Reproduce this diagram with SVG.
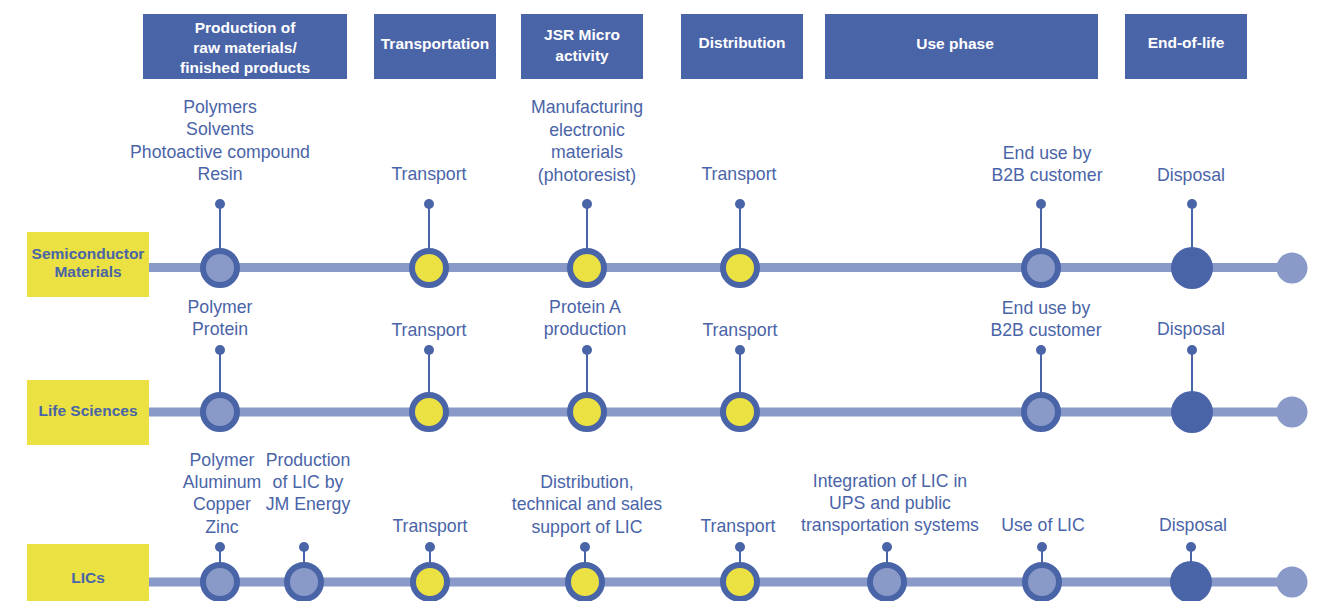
<svg xmlns="http://www.w3.org/2000/svg" width="1326" height="601" viewBox="0 0 1326 601">
<defs>
<style>
.hdr{fill:#4a64a8}
.ht{fill:#ffffff;font-family:"Liberation Sans",Arial,sans-serif;font-weight:bold;font-size:15.5px;text-anchor:middle}
.lbl{fill:#ebe142}
.lt{fill:#4a64a8;font-family:"Liberation Sans",Arial,sans-serif;font-weight:bold;font-size:15.5px;text-anchor:middle}
.t{fill:#4a64a8;font-family:"Liberation Sans",Arial,sans-serif;font-size:17.7px;text-anchor:middle}
.track{stroke:#8a9ac8;stroke-width:9;fill:none}
.stem{stroke:#4a64a8;stroke-width:2}
.dot{fill:#4a64a8}
.nb{fill:#8a9ac8;stroke:#4a64a8;stroke-width:6}
.ny{fill:#ebe142;stroke:#4a64a8;stroke-width:6}
.nd{fill:#4a64a8}
.ne{fill:#8a9ac8}
</style>
</defs>
<rect width="1326" height="601" fill="#ffffff"/>

<g id="headers">
<g id="h-production"><rect class="hdr" x="143" y="14" width="204" height="65"/>
<text class="ht" x="245" y="33">Production of</text><text class="ht" x="245" y="53">raw materials/</text><text class="ht" x="245" y="73">finished products</text></g>
<g id="h-transportation"><rect class="hdr" x="374" y="14" width="122" height="65"/><text class="ht" x="435" y="49">Transportation</text></g>
<g id="h-jsr"><rect class="hdr" x="521" y="14" width="122" height="65"/><text class="ht" x="582" y="40">JSR  Micro</text><text class="ht" x="582" y="61">activity</text></g>
<g id="h-distribution"><rect class="hdr" x="681" y="14" width="122" height="65"/><text class="ht" x="742" y="48">Distribution</text></g>
<g id="h-use"><rect class="hdr" x="825" y="14" width="273" height="65"/><text class="ht" x="955" y="49">Use phase</text></g>
<g id="h-eol"><rect class="hdr" x="1125" y="14" width="122" height="65"/><text class="ht" x="1186" y="48">End-of-life</text></g>
</g>

<g id="connectors">
<line class="track" x1="149" y1="267.5" x2="1292" y2="267.5"/>
<line class="track" x1="149" y1="412" x2="1292" y2="412"/>
<line class="track" x1="149" y1="582" x2="1292" y2="582"/>
<line class="stem" x1="220" y1="204" x2="220" y2="248"/>
<line class="stem" x1="429" y1="204" x2="429" y2="248"/>
<line class="stem" x1="587" y1="204" x2="587" y2="248"/>
<line class="stem" x1="740" y1="204" x2="740" y2="248"/>
<line class="stem" x1="1041" y1="204" x2="1041" y2="248"/>
<line class="stem" x1="1192" y1="204" x2="1192" y2="248"/>
<line class="stem" x1="220" y1="350" x2="220" y2="393"/>
<line class="stem" x1="429" y1="350" x2="429" y2="393"/>
<line class="stem" x1="587" y1="350" x2="587" y2="393"/>
<line class="stem" x1="740" y1="350" x2="740" y2="393"/>
<line class="stem" x1="1041" y1="350" x2="1041" y2="393"/>
<line class="stem" x1="1192" y1="350" x2="1192" y2="393"/>
<line class="stem" x1="220" y1="547" x2="220" y2="563"/>
<line class="stem" x1="304" y1="547" x2="304" y2="563"/>
<line class="stem" x1="430" y1="547" x2="430" y2="563"/>
<line class="stem" x1="585" y1="547" x2="585" y2="563"/>
<line class="stem" x1="740" y1="547" x2="740" y2="563"/>
<line class="stem" x1="887" y1="547" x2="887" y2="563"/>
<line class="stem" x1="1042" y1="547" x2="1042" y2="563"/>
<line class="stem" x1="1191" y1="547" x2="1191" y2="563"/>
</g>

<g id="row-semiconductor">
<g id="l-semi"><rect class="lbl" x="27" y="232" width="122" height="65"/><text class="lt" x="88" y="259">Semiconductor</text><text class="lt" x="88" y="277">Materials</text></g>
<g id="s1"><circle class="dot" cx="220" cy="204" r="5"/><circle class="nb" cx="220" cy="268" r="17"/>
<text class="t" x="220" y="113">Polymers</text><text class="t" x="220" y="135">Solvents</text><text class="t" x="220" y="158">Photoactive compound</text><text class="t" x="220" y="180">Resin</text></g>
<g id="s2"><circle class="dot" cx="429" cy="204" r="5"/><circle class="ny" cx="429" cy="268" r="17"/><text class="t" x="429" y="180">Transport</text></g>
<g id="s3"><circle class="dot" cx="587" cy="204" r="5"/><circle class="ny" cx="587" cy="268" r="17"/>
<text class="t" x="587" y="113">Manufacturing</text><text class="t" x="587" y="136">electronic</text><text class="t" x="587" y="158">materials</text><text class="t" x="587" y="181">(photoresist)</text></g>
<g id="s4"><circle class="dot" cx="740" cy="204" r="5"/><circle class="ny" cx="740" cy="268" r="17"/><text class="t" x="739" y="180">Transport</text></g>
<g id="s5"><circle class="dot" cx="1041" cy="204" r="5"/><circle class="nb" cx="1041" cy="268" r="17"/><text class="t" x="1047" y="159">End use by</text><text class="t" x="1047" y="181">B2B customer</text></g>
<g id="s6"><circle class="dot" cx="1192" cy="204" r="5"/><circle class="nd" cx="1192" cy="268" r="21"/><text class="t" x="1191" y="181">Disposal</text></g>
<g id="s7"><circle class="ne" cx="1292" cy="268" r="15.5"/></g>
</g>

<g id="row-life">
<g id="l-life"><rect class="lbl" x="27" y="380" width="122" height="65"/><text class="lt" x="88" y="416">Life Sciences</text></g>
<g id="l1"><circle class="dot" cx="220" cy="350" r="5"/><circle class="nb" cx="220" cy="412" r="17"/><text class="t" x="220" y="313">Polymer</text><text class="t" x="220" y="335">Protein</text></g>
<g id="l2"><circle class="dot" cx="429" cy="350" r="5"/><circle class="ny" cx="429" cy="412" r="17"/><text class="t" x="429" y="336">Transport</text></g>
<g id="l3"><circle class="dot" cx="587" cy="350" r="5"/><circle class="ny" cx="587" cy="412" r="17"/><text class="t" x="585" y="313">Protein A</text><text class="t" x="585" y="335">production</text></g>
<g id="l4"><circle class="dot" cx="740" cy="350" r="5"/><circle class="ny" cx="740" cy="412" r="17"/><text class="t" x="740" y="336">Transport</text></g>
<g id="l5"><circle class="dot" cx="1041" cy="350" r="5"/><circle class="nb" cx="1041" cy="412" r="17"/><text class="t" x="1046" y="314">End use by</text><text class="t" x="1046" y="336">B2B customer</text></g>
<g id="l6"><circle class="dot" cx="1192" cy="350" r="5"/><circle class="nd" cx="1192" cy="412" r="21"/><text class="t" x="1191" y="335">Disposal</text></g>
<g id="l7"><circle class="ne" cx="1292" cy="412" r="15.5"/></g>
</g>

<g id="row-lics">
<g id="l-lics"><rect class="lbl" x="27" y="544" width="122" height="60"/><text class="lt" x="88" y="583">LICs</text></g>
<g id="c1"><circle class="dot" cx="220" cy="547" r="5"/><circle class="nb" cx="220" cy="582" r="17"/>
<text class="t" x="222" y="466">Polymer</text><text class="t" x="222" y="488">Aluminum</text><text class="t" x="222" y="510">Copper</text><text class="t" x="222" y="533">Zinc</text></g>
<g id="c2"><circle class="dot" cx="304" cy="547" r="5"/><circle class="nb" cx="304" cy="582" r="17"/>
<text class="t" x="308" y="466">Production</text><text class="t" x="308" y="488">of LIC by</text><text class="t" x="308" y="510">JM Energy</text></g>
<g id="c3"><circle class="dot" cx="430" cy="547" r="5"/><circle class="ny" cx="430" cy="582" r="17"/><text class="t" x="430" y="532">Transport</text></g>
<g id="c4"><circle class="dot" cx="585" cy="547" r="5"/><circle class="ny" cx="585" cy="582" r="17"/>
<text class="t" x="587" y="488">Distribution,</text><text class="t" x="587" y="510">technical and sales</text><text class="t" x="587" y="533">support of LIC</text></g>
<g id="c5"><circle class="dot" cx="740" cy="547" r="5"/><circle class="ny" cx="740" cy="582" r="17"/><text class="t" x="738" y="532">Transport</text></g>
<g id="c6"><circle class="dot" cx="887" cy="547" r="5"/><circle class="nb" cx="887" cy="582" r="17"/>
<text class="t" x="890" y="487">Integration of LIC in</text><text class="t" x="890" y="509">UPS and public</text><text class="t" x="890" y="531">transportation systems</text></g>
<g id="c7"><circle class="dot" cx="1042" cy="547" r="5"/><circle class="nb" cx="1042" cy="582" r="17"/><text class="t" x="1043" y="531">Use of LIC</text></g>
<g id="c8"><circle class="dot" cx="1191" cy="547" r="5"/><circle class="nd" cx="1191" cy="582" r="21"/><text class="t" x="1193" y="531">Disposal</text></g>
<g id="c9"><circle class="ne" cx="1292" cy="582" r="15.5"/></g>
</g>
</svg>
